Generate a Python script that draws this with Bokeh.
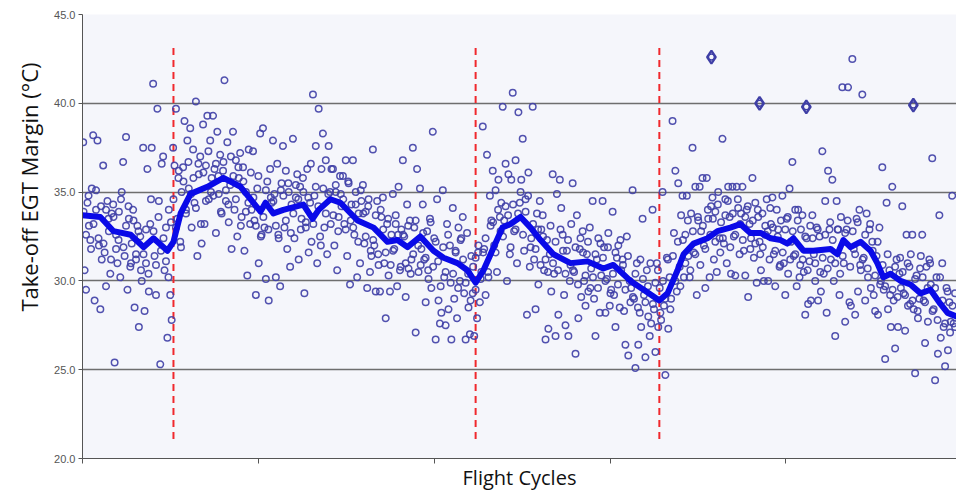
from bokeh.plotting import figure
from bokeh.models import Range1d, FixedTicker, NumeralTickFormatter, Title
from bokeh.embed import file_html
from bokeh.resources import INLINE

# ---- data ----
# take-off EGT margin samples, one every 4 flight cycles
egt_seg1 = [37.8, 30.6, 29.5, 34.4, 33.1, 32.3, 35.2,
            38.2, 28.9, 34.0, 37.9, 32.0, 28.4, 31.2,
            36.5, 31.6, 29.7, 34.5, 32.8, 30.4, 33.8,
            34.3, 25.4, 32.6, 31.0, 33.9, 30.2, 35.0,
            36.7, 31.4, 38.1, 29.5, 33.5, 30.8, 32.1,
            34.0, 28.5, 31.5, 33.1, 27.4, 32.5, 30.0,
            37.5, 28.3, 31.0, 36.3, 29.4, 33.2, 37.5,
            41.1, 31.4, 29.2, 39.7, 34.5, 25.3, 36.6,
            37.0, 30.6, 33.0, 26.8, 34.0, 29.2, 27.8]
egt_seg2 = [37.5, 36.5, 39.7, 33.5, 36.2, 32.2, 35.0,
            36.4, 39.0, 34.0, 37.9, 35.2, 38.6, 33.0,
            37.4, 34.4, 40.1, 31.4, 36.0, 37.0, 32.1,
            38.8, 33.2, 36.5, 39.3, 34.6, 37.9, 35.8,
            39.3, 36.3, 32.7, 38.4, 34.9, 37.1, 33.8,
            36.2, 41.3, 34.5, 37.8, 33.3, 35.4, 31.8,
            38.4, 34.0, 36.8, 32.5, 35.8, 37.2, 33.6,
            36.4, 31.7, 35.0, 30.3, 37.4, 33.2, 34.0,
            37.3, 33.4, 29.2, 35.2, 31.0, 38.3, 32.6,
            38.6, 33.0, 30.1, 35.6, 28.9, 36.3, 34.4,
            37.9, 34.9, 30.2, 36.6, 32.4, 29.7, 35.5,
            37.6, 33.0, 36.2, 31.8, 35.0, 30.8, 34.3,
            38.0, 32.4, 34.7, 36.0, 31.2, 35.3, 33.5,
            35.8, 29.3, 33.0, 36.3, 31.6, 34.4, 32.2,
            40.5, 34.8, 37.6, 31.0, 39.7, 32.5, 36.3,
            38.3, 33.0, 36.8, 31.5, 37.6, 35.0, 36.3,
            36.3, 32.0, 35.0, 30.6, 33.6, 35.9, 34.2,
            35.9, 33.2, 36.8, 31.4, 35.5, 29.8, 34.3,
            36.8, 32.6, 35.0, 30.2, 33.8, 31.0, 34.5,
            35.4, 32.1, 33.9, 29.6, 34.6, 30.5, 31.4,
            37.4, 32.0, 29.4, 34.5, 30.9, 29.4, 33.6,
            34.7, 31.0, 27.9, 33.2, 30.3, 29.4, 32.6,
            34.9, 31.8, 33.7, 29.7, 35.3, 30.6, 32.9,
            36.8, 32.5, 29.1, 34.3, 30.7, 33.4, 31.2,
            37.5, 33.0, 27.1, 36.3, 30.5, 35.2, 31.8,
            34.3, 31.2, 28.8, 32.8, 30.1, 33.5, 29.6,
            38.4, 32.4, 26.7, 34.6, 28.9, 27.6, 28.2,
            35.1, 30.2, 27.5, 33.2, 28.4, 32.0, 26.7,
            34.1, 29.0, 31.6, 27.9, 33.0, 30.0, 32.4,
            33.6, 29.3, 26.7, 32.7, 28.5, 27.0, 31.4]
egt_seg3 = [29.3, 26.9, 31.3, 27.9, 32.0, 28.8, 30.5,
            38.7, 31.8, 29.2, 37.1, 30.2, 34.8, 33.4,
            36.2, 32.0, 35.1, 30.5, 35.7, 33.6, 34.4,
            39.8, 33.4, 36.6, 30.0, 36.0, 31.5, 35.7,
            40.6, 32.8, 36.8, 31.0, 39.5, 34.4, 35.7,
            38.0, 31.7, 34.6, 28.1, 36.1, 30.8, 32.4,
            39.8, 31.2, 28.4, 33.8, 29.8, 34.5, 32.9,
            33.7, 30.6, 26.7, 32.3, 27.3, 31.5, 29.4,
            36.0, 30.4, 26.9, 34.9, 28.1, 35.7, 34.1,
            32.6, 29.2, 27.5, 31.7, 26.9, 30.0, 33.2,
            35.5, 30.5, 25.9, 33.7, 27.9, 31.8, 29.1,
            32.8, 30.0, 28.6, 31.5, 29.4, 33.0, 30.7,
            34.5, 29.0, 26.9, 31.2, 32.4, 28.2, 30.3,
            34.5, 31.9, 28.2, 30.1, 32.7, 28.6, 29.5,
            33.9, 29.2, 27.4, 31.3, 32.0, 28.5, 30.6,
            31.2, 28.3, 26.4, 32.5, 25.8, 30.0, 29.6,
            35.1, 29.0, 25.1, 31.0, 26.4, 28.2, 27.4,
            33.5, 29.2, 25.7, 30.6, 28.0, 26.9, 27.6,
            34.0, 28.4, 26.0, 31.0, 27.4, 29.6, 27.8]
egt_seg4 = [35.0, 28.6, 24.7, 31.3, 27.3, 30.2, 29.0,
            39.0, 32.7, 36.2, 29.4, 35.5, 30.8, 33.7,
            34.8, 30.2, 32.6, 34.8, 31.4, 30.2, 33.8,
            37.5, 31.6, 35.3, 29.2, 33.4, 35.3, 32.8,
            35.8, 32.0, 29.6, 35.8, 33.5, 30.2, 34.2,
            34.7, 31.2, 33.9, 30.5, 35.0, 32.4, 33.3,
            38.0, 32.1, 34.6, 31.0, 35.3, 33.6, 30.4,
            35.3, 32.5, 30.3, 35.3, 34.1, 31.5, 33.8,
            35.3, 31.7, 30.3, 34.0, 29.1, 33.2, 32.4,
            35.8, 31.3, 34.4, 29.9, 33.6, 32.2, 30.6,
            33.8, 30.0, 32.6, 34.6, 30.0, 31.2, 33.2,
            34.7, 31.5, 29.7, 34.0, 32.9, 30.8, 33.4,
            34.8, 31.0, 29.2, 33.5, 30.4, 35.2, 32.2,
            36.7, 31.4, 34.0, 29.7, 34.0, 30.2, 32.9,
            33.7, 30.5, 28.1, 32.4, 28.7, 31.1, 28.9,
            33.7, 31.5, 30.0, 33.0, 28.9, 32.5, 29.4,
            37.3, 30.4, 34.5, 28.2, 36.2, 32.9, 31.2,
            35.7, 30.0, 26.9, 34.5, 32.9, 29.2, 33.6,
            40.9, 31.0, 27.7, 32.9, 40.9, 28.8, 28.6,
            42.5, 31.8, 28.1, 33.5, 29.4, 34.0, 30.6,
            40.5, 31.3, 28.9, 33.8, 30.2, 32.9, 29.6,
            32.2, 29.2, 28.3, 31.4, 28.1, 33.0, 30.0,
            36.4, 29.5, 25.6, 34.4, 28.4, 30.6, 27.4,
            35.3, 28.9, 26.2, 31.2, 27.4, 30.4, 29.6,
            34.2, 29.3, 27.2, 32.6, 28.6, 30.8, 31.5,
            32.6, 28.4, 24.8, 30.3, 27.9, 29.0, 31.4,
            32.6, 28.9, 26.5, 30.8, 27.7, 31.2, 29.8,
            36.9, 28.4, 24.4, 30.2, 25.9, 33.7, 26.8,
            31.0, 27.4, 25.2, 29.6, 26.1, 28.8, 27.7,
            34.8, 27.6, 29.3]
egt_all = egt_seg1 + egt_seg2 + egt_seg3 + egt_seg4
sample_cycles = [4 * i + 2 for i in range(len(egt_all))]

# second engine-run batch, one every 7 flight cycles
egt_b1 = [33.9, 32.6, 34.8, 31.8, 33.2, 35.1, 32.4, 34.2, 32.1, 34.0, 33.5, 31.2,
          33.6, 31.8, 32.3, 34.6, 31.9, 33.1, 34.2, 31.0, 33.4, 31.2, 32.8, 30.6,
          31.5, 32.9, 30.4, 34.6, 32.8, 30.9, 33.6, 31.7, 32.4, 31.1, 30.2, 33.3,
          34.6, 33.0, 35.8, 31.9, 35.6, 33.8, 36.7, 34.9, 35.8, 34.1, 36.6, 33.2,
          36.1, 34.5, 37.3, 35.0, 34.8, 36.6, 35.9, 33.9, 36.7, 35.1, 34.3, 37.0,
          35.9, 34.6, 36.4, 33.1, 35.6, 33.9, 34.4, 36.1, 34.7, 33.1, 35.9, 32.5,
          33.6, 35.1, 32.9, 34.7, 34.5, 33.1, 32.6, 35.1, 34.8, 33.4, 35.5, 32.7,
          33.8, 35.4, 34.6, 32.9, 35.0, 33.3, 34.7, 36.6, 33.2, 35.3, 34.2, 32.0,
          35.2, 33.8, 34.9, 33.2, 33.7, 35.4, 32.8, 34.9, 34.6, 32.9, 35.6, 33.4,
          33.0, 34.3, 32.2, 35.1, 33.8, 32.5, 34.2, 31.7, 32.3, 33.7, 31.5, 34.0,
          32.9, 31.6, 33.5, 30.9, 31.7, 33.2, 32.6, 30.8, 32.6, 31.0, 33.1, 30.4,
          31.5, 33.4, 32.0, 30.9, 32.7, 31.3, 30.6, 33.3, 30.8, 32.2, 31.1, 29.7,
          31.9, 30.5, 32.6, 29.9, 30.4, 31.7, 29.6, 32.3, 31.2, 29.9, 30.4, 28.9,
          30.8, 29.5, 31.6, 30.1, 31.6, 32.4, 30.5, 33.1, 33.3, 31.6, 34.0, 32.8]
egt_b2 = [32.5, 34.2, 33.7, 31.9, 34.3, 32.9, 33.8, 35.0, 32.6, 33.9, 34.8, 31.9,
          33.2, 31.8, 32.9, 30.9, 32.5, 31.2, 30.5, 33.1, 31.0, 32.2, 30.6, 32.9,
          31.7, 30.4, 32.3, 30.9, 30.6, 31.9, 29.8, 32.4, 31.6, 30.3, 32.2, 29.6,
          30.2, 31.5, 29.6, 32.1, 31.3, 30.0, 31.9, 29.3, 30.4, 31.6, 29.8, 32.3,
          30.9, 29.5, 31.4, 28.8, 29.1, 30.4, 28.5, 31.2, 30.1, 28.8, 29.7, 31.0,
          28.7, 29.9, 30.6, 28.2, 30.0, 29.0, 31.2, 28.4, 31.4, 30.0, 32.2, 29.7,
          32.3, 31.0, 33.4, 30.6, 32.8, 31.5, 33.6, 30.9, 33.1, 31.8, 34.0, 32.6,
          33.5, 32.2, 34.3, 31.6, 32.4, 33.7, 34.5, 31.9, 33.8, 32.6, 34.6, 33.2,
          32.3, 33.6, 34.2, 31.8, 33.4, 32.1, 34.0, 31.5, 31.9, 33.1, 32.8, 34.1,
          33.0, 31.7, 32.5, 30.9, 31.6, 32.9, 33.6, 31.2, 32.8, 31.5, 33.4, 30.9,
          31.2, 32.5, 30.6, 33.1, 32.4, 31.0, 32.9, 30.5, 31.3, 32.6, 30.7, 33.3,
          32.3, 31.0, 32.9, 30.4, 31.4, 32.7, 33.4, 30.8, 32.8, 31.5, 33.3, 30.9,
          31.2, 32.6, 30.7, 33.2, 31.7, 30.3, 32.2, 29.8, 30.9, 29.7, 31.5, 29.2,
          29.5, 30.8, 29.1, 31.3, 30.5, 29.2, 31.0, 28.7, 28.9, 30.1, 28.3, 30.7,
          30.2, 28.8, 29.6, 31.0, 28.3, 29.6, 27.8, 30.2, 28.9, 27.6, 29.4, 27.1,
          28.6, 27.4]
egt_b_all = egt_b1 + egt_b2
sample_b_cycles = [7 * i + 3 for i in range(len(egt_b_all))]

# flagged outliers (diamonds)
flag_cycles = [1763, 1898, 2029, 2329]
flag_egt = [42.6, 40.0, 39.8, 39.9]

# smoothed trend
trend_cycles = [0, 50, 87, 135, 171, 199, 238, 255, 275, 303, 350, 395, 443, 471,
                499, 513, 535, 563, 619, 645, 662, 695, 723, 771, 816, 855, 883,
                911, 947, 984, 1012, 1051, 1079, 1102, 1124, 1144, 1177, 1200,
                1228, 1256, 1284, 1320, 1368, 1416, 1460, 1488, 1536, 1573, 1617,
                1640, 1668, 1685, 1713, 1752, 1780, 1816, 1844, 1872, 1901, 1929,
                1957, 1976, 1993, 2021, 2049, 2097, 2116, 2133, 2153, 2181, 2209,
                2228, 2245, 2265, 2293, 2321, 2349, 2377, 2405, 2425, 2450]
trend_egt = [33.7, 33.6, 32.8, 32.6, 31.9, 32.4, 31.7, 32.2, 33.8, 34.9, 35.3, 35.8,
             35.3, 34.6, 33.9, 34.4, 33.8, 34.0, 34.3, 33.5, 34.0, 34.6, 34.4, 33.4,
             33.0, 32.2, 32.3, 31.9, 32.5, 31.7, 31.3, 31.0, 30.6, 29.9, 30.6, 31.5,
             33.0, 33.2, 33.6, 33.0, 32.3, 31.5, 31.0, 31.1, 30.7, 30.9, 30.0, 29.5,
             28.9, 29.3, 30.6, 31.5, 32.1, 32.4, 32.8, 33.0, 33.2, 32.7, 32.7, 32.4,
             32.3, 32.1, 32.4, 31.7, 31.7, 31.8, 31.5, 32.3, 31.9, 32.2, 31.7, 31.0,
             30.2, 30.4, 30.0, 29.8, 29.3, 29.5, 28.7, 28.2, 28.0]

# engine wash events
wash_cycles = [255, 1102, 1617]

y_ticks = [20, 25, 30, 35, 40, 45]
x_ticks = [0, 493, 986, 1479, 1972]

# ---- figure ----
p = figure(width=956, height=491, frame_width=874, frame_height=444,
           x_range=Range1d(0, 2450), y_range=Range1d(20, 45),
           output_backend="svg", toolbar_location=None,
           min_border_left=82, min_border_right=0, min_border_top=14,
           min_border_bottom=33)
p.background_fill_color = "#f5f6fb"
p.border_fill_color = "white"
p.outline_line_color = None

p.xgrid.grid_line_color = None
p.ygrid.grid_line_color = "#6e6e6e"
p.ygrid.grid_line_width = 1.4

p.yaxis.ticker = FixedTicker(ticks=y_ticks)
p.yaxis.formatter = NumeralTickFormatter(format="0.0")
p.yaxis.major_label_text_font = "Liberation Sans"
p.yaxis.major_label_text_font_size = "11px"
p.yaxis.major_label_text_color = "#555555"
p.yaxis.major_tick_in = 0
p.yaxis.major_tick_out = 4
p.yaxis.minor_tick_line_color = None
p.yaxis.axis_line_color = "#555555"
p.yaxis.major_tick_line_color = "#555555"
p.yaxis.major_label_standoff = 3

p.xaxis.ticker = FixedTicker(ticks=x_ticks)
p.xaxis.major_label_overrides = {t: "" for t in x_ticks}
p.xaxis.major_tick_in = 0
p.xaxis.major_tick_out = 5
p.xaxis.minor_tick_line_color = None
p.xaxis.axis_line_color = "#555555"
p.xaxis.major_tick_line_color = "#555555"
p.xaxis.axis_label = "Flight Cycles"
p.xaxis.axis_label_text_font = "Open Sans"
p.xaxis.axis_label_text_font_size = "20px"
p.xaxis.axis_label_text_font_style = "normal"
p.xaxis.axis_label_text_color = "#111111"
p.xaxis.axis_label_standoff = 0
p.xaxis.major_label_standoff = 0

ytitle = Title(text="Take-off EGT Margin (°C)", align="right", offset=48,
               text_font="Open Sans", text_font_size="22px",
               text_font_style="normal", text_color="#111111", standoff=16)
p.add_layout(ytitle, "left")

# wash lines
p.segment(x0=wash_cycles, y0=[21.1] * len(wash_cycles), x1=wash_cycles,
          y1=[43.2] * len(wash_cycles), line_color="#f0282d", line_width=2,
          line_dash="7 5")

# scatter
p.scatter(sample_cycles, egt_all, marker="circle", size=6.5, fill_color=None,
          line_color="#3f3fa6", line_width=1.5, line_alpha=0.9)
p.scatter(sample_b_cycles, egt_b_all, marker="circle", size=6.5, fill_color=None,
          line_color="#3f3fa6", line_width=1.5, line_alpha=0.9)
p.scatter(flag_cycles, flag_egt, marker="diamond", size=13, fill_color=None,
          line_color="#3f3fa6", line_width=2.2)
p.scatter(flag_cycles, flag_egt, marker="circle", size=6, fill_color=None,
          line_color="#3f3fa6", line_width=1.5)

# trend
p.line(trend_cycles, trend_egt, line_color="#0a0ae8", line_width=6,
       line_join="round", line_cap="round")

open("out.html", "w").write(file_html(p, INLINE))
